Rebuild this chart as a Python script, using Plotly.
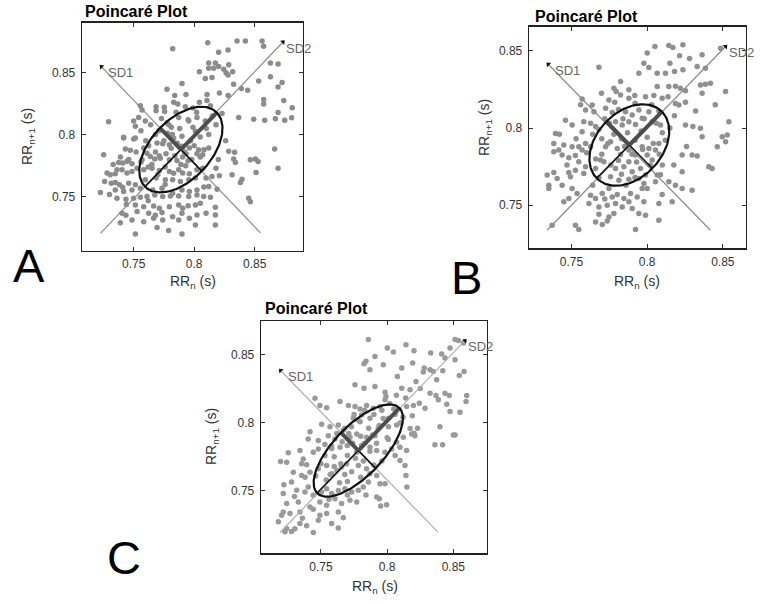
import numpy as np
import plotly.graph_objects as go

# ---------------- data (RR_n, RR_n+1) in seconds ----------------
A_RR = [
    (0.8112,0.8738),(0.7822,0.8689),(0.8354,0.8751),(0.8423,0.8751),(0.8561,0.8751),(0.8574,0.8710),
    (0.8202,0.8661),(0.8280,0.8678),(0.8120,0.8574),(0.8175,0.8574),(0.8202,0.8546),(0.8120,0.8533),
    (0.8161,0.8533),(0.8244,0.8525),(0.8285,0.8560),(0.8043,0.8505),(0.8263,0.8497),(0.8318,0.8505),
    (0.8092,0.8451),(0.8147,0.8459),(0.8280,0.8478),(0.8630,0.8574),(0.8693,0.8566),(0.8630,0.8464),
    (0.8726,0.8418),(0.8693,0.8383),(0.8533,0.8430),(0.7899,0.8410),(0.8326,0.8404),(0.8390,0.8369),
    (0.8442,0.8355),(0.7775,0.8363),(0.7839,0.8314),(0.7932,0.8322),(0.8106,0.8322),(0.8208,0.8333),
    (0.8280,0.8314),(0.8574,0.8281),(0.8574,0.8246),(0.8740,0.8273),(0.8106,0.8273),(0.8043,0.8260),
    (0.8134,0.8232),(0.7555,0.8232),(0.7569,0.8197),(0.7685,0.8224),(0.7685,0.8191),(0.7753,0.8219),
    (0.7756,0.8186),(0.7831,0.8260),(0.7864,0.8246),(0.7927,0.8224),(0.7988,0.8213),(0.8368,0.8137),
    (0.8492,0.8123),(0.8583,0.8115),(0.8671,0.8128),(0.8748,0.8115),(0.8693,0.8178),(0.8230,0.8170),
    (0.7293,0.8104),(0.7500,0.8109),(0.7514,0.8068),(0.7541,0.8137),(0.7596,0.8109),(0.7775,0.8096),
    (0.7811,0.8060),(0.7872,0.8137),(0.7955,0.8109),(0.8023,0.8137),(0.8092,0.8109),(0.7417,0.7978),
    (0.7514,0.7973),(0.7899,0.7986),(0.8010,0.8027),(0.8120,0.8000),(0.8805,0.8135),(0.8810,0.8215),
    (0.7417,0.7973),(0.7500,0.7965),(0.7431,0.7884),(0.7472,0.7874),(0.7583,0.7892),(0.7624,0.7911),
    (0.7693,0.7933),(0.7740,0.7927),(0.7795,0.7919),(0.7899,0.7906),(0.7960,0.7892),(0.8037,0.7879),
    (0.8081,0.7879),(0.8120,0.7892),(0.8285,0.7866),(0.8334,0.7858),(0.8665,0.7884),(0.8506,0.7804),
    (0.8464,0.7798),(0.8528,0.7785),(0.8326,0.7804),(0.8340,0.7777),(0.8693,0.7731),(0.8511,0.7696),
    (0.7252,0.7839),(0.7376,0.7777),(0.7409,0.7772),(0.7445,0.7785),(0.7486,0.7766),(0.7569,0.7798),
    (0.7638,0.7825),(0.7674,0.7804),(0.7712,0.7828),(0.7767,0.7847),(0.7795,0.7798),(0.7858,0.7793),
    (0.7905,0.7820),(0.7933,0.7847),(0.8023,0.7847),(0.8070,0.7839),(0.7280,0.7691),(0.7307,0.7677),
    (0.7348,0.7685),(0.7362,0.7718),(0.7404,0.7718),(0.7445,0.7691),(0.7486,0.7704),(0.7528,0.7731),
    (0.7583,0.7718),(0.7652,0.7731),(0.7712,0.7712),(0.7795,0.7704),(0.7872,0.7718),(0.7905,0.7691),
    (0.7960,0.7685),(0.8023,0.7718),(0.8070,0.7731),(0.8180,0.7731),(0.7260,0.7624),(0.7315,0.7610),
    (0.7348,0.7616),(0.7382,0.7597),(0.7409,0.7578),(0.7459,0.7610),(0.7514,0.7597),(0.7596,0.7637),
    (0.7685,0.7651),(0.7762,0.7637),(0.7822,0.7637),(0.7886,0.7624),(0.7955,0.7637),(0.8010,0.7651),
    (0.8098,0.7651),(0.8147,0.7664),(0.8208,0.7669),(0.8313,0.7677),(0.8395,0.7642),(0.8382,0.7616),
    (0.7225,0.7535),(0.7348,0.7556),(0.7417,0.7543),(0.7486,0.7556),(0.7555,0.7570),(0.7657,0.7556),
    (0.7734,0.7570),(0.7822,0.7530),(0.7899,0.7556),(0.7960,0.7543),(0.8023,0.7556),(0.8120,0.7583),
    (0.8189,0.7562),(0.8450,0.7489),(0.8464,0.7462),(0.7362,0.7489),(0.7436,0.7481),(0.7500,0.7489),
    (0.7555,0.7497),(0.7610,0.7503),(0.7674,0.7516),(0.7740,0.7503),(0.7803,0.7508),(0.7872,0.7508),
    (0.7955,0.7503),(0.8023,0.7516),(0.8078,0.7503),(0.8134,0.7497),(0.7514,0.7435),(0.7583,0.7422),
    (0.7665,0.7427),(0.7712,0.7409),(0.7795,0.7422),(0.7872,0.7435),(0.7905,0.7409),(0.8010,0.7435),
    (0.8051,0.7449),(0.8175,0.7417),(0.7404,0.7368),(0.7436,0.7352),(0.7528,0.7382),(0.7624,0.7368),
    (0.7679,0.7352),(0.7734,0.7374),(0.7822,0.7341),(0.7899,0.7368),(0.7960,0.7328),(0.8023,0.7355),
    (0.8098,0.7368),(0.8175,0.7355),(0.7390,0.7293),(0.7486,0.7315),(0.7583,0.7301),(0.7665,0.7328),
    (0.7740,0.7315),(0.7872,0.7315),(0.8010,0.7274),(0.8175,0.7274),(0.7514,0.7202),(0.7693,0.7255),
    (0.7789,0.7231),(0.7899,0.7202),
    (0.7780,0.8010),(0.7830,0.7970),(0.7860,0.7930),(0.7750,0.7950),(0.7810,0.7890),(0.7920,0.7860),
    (0.7970,0.7950),(0.7680,0.7860),(0.7720,0.7810),(0.7840,0.7830),(0.7950,0.7790),(0.8000,0.7910),
    (0.7650,0.7760),(0.7760,0.7740),(0.7890,0.7760),(0.7610,0.7850),(0.7790,0.8080),(0.7710,0.8030),
    (0.8050,0.7980),(0.8100,0.8050),(0.7950,0.8120),(0.8020,0.8180),
    (0.7330,0.7760),(0.7390,0.7820),(0.7460,0.7800),(0.7520,0.7860),(0.7560,0.7780),(0.7620,0.7740),
    (0.7700,0.7680),(0.7760,0.7600),(0.7830,0.7690),(0.7930,0.7750),(0.7980,0.7800),(0.8050,0.7820),
    (0.7990,0.8060),(0.7880,0.8050),(0.7820,0.8000),(0.7680,0.8000),(0.7600,0.7950),(0.7560,0.8030),
    (0.7640,0.8080),(0.7730,0.8130),(0.7850,0.8180),(0.8150,0.8150),(0.8180,0.8080),(0.8260,0.7950),
    (0.8200,0.7800),(0.7300,0.7520),(0.7440,0.7440),(0.7620,0.7470),(0.7950,0.7430),(0.8080,0.7580),
]

B_RR = [
    (0.8051,0.8528),(0.8143,0.8535),(0.8170,0.8522),(0.8236,0.8539),(0.8000,0.8485),(0.8214,0.8468),
    (0.8363,0.8474),(0.8485,0.8517),(0.7681,0.8394),(0.7978,0.8420),(0.8011,0.8392),(0.8066,0.8355),
    (0.8121,0.8355),(0.8181,0.8366),(0.8236,0.8377),(0.8330,0.8398),(0.8385,0.8387),(0.7945,0.8355),
    (0.7824,0.8301),(0.7879,0.8247),(0.8066,0.8268),(0.8143,0.8268),(0.8187,0.8271),(0.8220,0.8258),
    (0.8253,0.8242),(0.8352,0.8279),(0.8385,0.8284),(0.8363,0.8225),(0.8418,0.8290),(0.8518,0.8236),
    (0.7780,0.8258),(0.7795,0.8236),(0.7698,0.8225),(0.7824,0.8214),(0.7879,0.8193),(0.7918,0.8210),
    (0.7989,0.8203),(0.8044,0.8210),(0.8099,0.8193),(0.8138,0.8203),(0.8187,0.8158),(0.8209,0.8149),
    (0.8253,0.8167),(0.7570,0.8188),(0.7637,0.8149),(0.7747,0.8182),(0.7786,0.8167),(0.7725,0.8128),
    (0.7769,0.8101),(0.7593,0.8117),(0.7648,0.8106),(0.7857,0.8106),(0.7901,0.8084),(0.7945,0.8117),
    (0.8011,0.8106),(0.8077,0.8110),(0.8540,0.8041),(0.8253,0.8020),(0.8302,0.8009),(0.8352,0.7998),
    (0.7504,0.8020),(0.7394,0.7965),(0.7581,0.8041),(0.7626,0.8030),(0.7659,0.8009),(0.7570,0.7976),
    (0.7791,0.8041),(0.7835,0.8020),(0.7879,0.8041),(0.7923,0.8023),(0.7967,0.8063),(0.8033,0.8041),
    (0.8088,0.8020),(0.8529,0.7955),
    (0.7383,0.7900),(0.7383,0.7846),(0.7416,0.7857),(0.7449,0.7890),(0.7504,0.7879),(0.7548,0.7879),
    (0.7438,0.7825),(0.7482,0.7808),(0.7526,0.7822),(0.7570,0.7857),(0.7593,0.7900),(0.7626,0.7879),
    (0.7548,0.7781),(0.7593,0.7749),(0.7339,0.7695),(0.7383,0.7712),(0.7350,0.7630),(0.7405,0.7673),
    (0.7482,0.7712),(0.7526,0.7727),(0.7438,0.7630),(0.7350,0.7608),(0.7493,0.7684),(0.7581,0.7706),
    (0.7659,0.7738),(0.7692,0.7792),(0.7714,0.7781),(0.7725,0.7879),(0.7758,0.7911),(0.7802,0.7868),
    (0.7824,0.7828),(0.7879,0.7857),(0.7923,0.7825),(0.7879,0.7781),(0.7967,0.7879),(0.8011,0.7868),
    (0.8000,0.7825),(0.8055,0.7857),(0.8077,0.7900),(0.8033,0.7792),(0.7791,0.7738),(0.7846,0.7749),
    (0.7901,0.7716),(0.7956,0.7738),(0.7989,0.7695),(0.7681,0.7678),(0.7758,0.7684),(0.7813,0.7662),
    (0.7879,0.7668),(0.7945,0.7673),(0.7978,0.7641),(0.8000,0.7608),(0.7967,0.7608),(0.8066,0.7695),
    (0.8088,0.7697),(0.8055,0.7652),(0.8143,0.7652),(0.8187,0.7630),(0.8231,0.7608),(0.8099,0.7570),
    (0.8165,0.7522),(0.8077,0.7511),(0.8297,0.7597),(0.8176,0.7760),(0.8231,0.7825),(0.8297,0.7825),
    (0.8330,0.7819),(0.8363,0.7944),(0.8407,0.7749),(0.8429,0.7738),(0.8496,0.7944),(0.8518,0.7911),
    (0.8463,0.7879),(0.8231,0.7716),(0.7504,0.7608),(0.7537,0.7576),(0.7449,0.7522),(0.7482,0.7543),
    (0.7626,0.7565),(0.7659,0.7543),(0.7703,0.7576),(0.7747,0.7608),(0.7802,0.7569),(0.7846,0.7543),
    (0.7890,0.7576),(0.7934,0.7554),(0.7978,0.7522),(0.7615,0.7511),(0.7681,0.7489),(0.7736,0.7500),
    (0.7791,0.7511),(0.7835,0.7489),(0.7901,0.7478),(0.7945,0.7446),(0.7989,0.7435),(0.7681,0.7441),
    (0.7747,0.7424),(0.7780,0.7446),(0.7659,0.7392),(0.7703,0.7375),(0.7736,0.7397),(0.7526,0.7370),
    (0.7548,0.7343),(0.7372,0.7370),(0.7923,0.7343),(0.8077,0.7403),(0.7769,0.7554),(0.7879,0.7522),
    (0.7780,0.7960),(0.7830,0.7930),(0.7870,0.7970),(0.7920,0.7920),(0.7960,0.7980),(0.8000,0.7940),
    (0.7740,0.7900),(0.7850,0.7880),(0.7900,0.7830),(0.7970,0.7860),(0.8040,0.7900),(0.8100,0.7970),
    (0.7700,0.7830),(0.7810,0.7790),(0.7930,0.7780),(0.7680,0.7990),(0.7750,0.8030),(0.7840,0.8060),
    (0.7980,0.8060),(0.8060,0.8030),
    (0.7640,0.7960),(0.7700,0.7930),(0.7600,0.7840),(0.7660,0.7800),(0.7760,0.7760),(0.7830,0.7700),
    (0.7920,0.7680),(0.8020,0.7760),(0.8080,0.7830),(0.8120,0.7920),(0.8150,0.8000),(0.8180,0.8080),
    (0.8030,0.8150),(0.7920,0.8160),(0.7810,0.8120),(0.7720,0.8060),(0.7530,0.7930),(0.7470,0.7760),
    (0.7420,0.7960),(0.7640,0.7630),(0.7720,0.7540),(0.7860,0.7630),(0.8100,0.7760),(0.8260,0.7880),
    (0.8320,0.8110),(0.8450,0.8150),(0.7460,0.8050),(0.7560,0.8150),(0.8150,0.8420),(0.8280,0.8450),
]

C_RR = [
    (0.7858,0.8608),(0.8001,0.8547),(0.8047,0.8517),(0.8142,0.8571),(0.8203,0.8527),(0.8329,0.8510),
    (0.8412,0.8502),(0.8475,0.8547),(0.8513,0.8608),(0.8538,0.8601),(0.8576,0.8583),(0.7840,0.8449),
    (0.7825,0.8432),(0.7908,0.8485),(0.7971,0.8424),(0.8110,0.8400),(0.8193,0.8436),(0.7870,0.8387),
    (0.8077,0.8338),(0.8273,0.8370),(0.8324,0.8387),(0.8349,0.8375),(0.8374,0.8314),(0.8437,0.8473),
    (0.8513,0.8461),(0.8581,0.8375),(0.8545,0.8346),(0.8218,0.8301),(0.7757,0.8277),(0.7825,0.8252),
    (0.7908,0.8265),(0.7984,0.8223),(0.7991,0.8191),(0.7984,0.8167),(0.8110,0.8252),(0.8173,0.8240),
    (0.8324,0.8216),(0.8369,0.8198),(0.8437,0.8216),(0.8469,0.8198),(0.8601,0.8198),(0.8596,0.8154),
    (0.8387,0.8167),(0.8450,0.8135),(0.7455,0.8179),(0.7492,0.8125),(0.7543,0.8110),(0.7644,0.8154),
    (0.7707,0.8125),(0.7757,0.8118),(0.7795,0.8100),(0.7845,0.8125),(0.7895,0.8105),(0.7946,0.8118),
    (0.8147,0.8118),(0.8198,0.8125),(0.8243,0.8142),(0.8286,0.8105),(0.8475,0.8081),(0.8550,0.8076),
    (0.8399,0.7971),(0.8513,0.7909),(0.7417,0.7934),(0.7505,0.7988),(0.7568,0.7971),(0.7631,0.7983),
    (0.7669,0.7946),(0.7744,0.8032),(0.7795,0.8007),(0.7807,0.8056),(0.7870,0.8032),(0.8009,0.8032),
    (0.8072,0.7983),(0.8173,0.7958),(0.8203,0.7922),(0.7933,0.7958),
    (0.7404,0.7881),(0.7480,0.7869),(0.7555,0.7905),(0.7606,0.7881),(0.7719,0.7893),(0.7770,0.7917),
    (0.7845,0.7893),(0.7908,0.7905),(0.8009,0.7876),(0.8072,0.7857),(0.8122,0.7893),(0.8185,0.7917),
    (0.8210,0.7905),(0.8500,0.7910),(0.8361,0.7838),(0.8419,0.7838),(0.7195,0.7716),(0.7241,0.7711),
    (0.7253,0.7779),(0.7341,0.7796),(0.7366,0.7735),(0.7354,0.7699),(0.7392,0.7692),(0.7442,0.7784),
    (0.7480,0.7808),(0.7530,0.7760),(0.7581,0.7811),(0.7644,0.7820),(0.7699,0.7833),(0.7770,0.7784),
    (0.7807,0.7833),(0.7870,0.7820),(0.7921,0.7796),(0.7984,0.7784),(0.8034,0.7808),(0.8097,0.7820),
    (0.8147,0.7796),(0.8097,0.7723),(0.8135,0.7687),(0.7291,0.7638),(0.7354,0.7614),(0.7417,0.7638),
    (0.7480,0.7663),(0.7543,0.7687),(0.7581,0.7626),(0.7656,0.7675),(0.7694,0.7699),(0.7732,0.7641),
    (0.7782,0.7687),(0.7845,0.7663),(0.7870,0.7626),(0.7921,0.7614),(0.7946,0.7553),(0.7984,0.7553),
    (0.8142,0.7614),(0.8149,0.7529),(0.7220,0.7546),(0.7215,0.7481),(0.7278,0.7566),(0.7316,0.7505),
    (0.7379,0.7493),(0.7404,0.7529),(0.7442,0.7468),(0.7505,0.7493),(0.7543,0.7517),(0.7581,0.7481),
    (0.7631,0.7503),(0.7681,0.7517),(0.7732,0.7493),(0.7782,0.7505),(0.7820,0.7529),(0.7858,0.7566),
    (0.7921,0.7456),(0.7941,0.7444),(0.7241,0.7408),(0.7215,0.7347),(0.7329,0.7420),(0.7417,0.7383),
    (0.7492,0.7420),(0.7543,0.7396),(0.7606,0.7444),(0.7656,0.7408),(0.7719,0.7432),(0.7770,0.7420),
    (0.7951,0.7391),(0.7996,0.7400),(0.7178,0.7274),(0.7203,0.7323),(0.7266,0.7335),(0.7341,0.7347),
    (0.7442,0.7366),(0.7492,0.7323),(0.7543,0.7335),(0.7631,0.7347),(0.7669,0.7304),(0.7241,0.7226),
    (0.7278,0.7204),(0.7303,0.7224),(0.7341,0.7262),(0.7392,0.7245),(0.7442,0.7197),(0.7480,0.7286),
    (0.7581,0.7262),(0.7631,0.7229),(0.7228,0.7201),
    (0.7660,0.7860),(0.7710,0.7920),(0.7740,0.7850),(0.7800,0.7900),(0.7860,0.7960),(0.7830,0.7850),
    (0.7890,0.7910),(0.7940,0.7980),(0.7970,0.8030),(0.8010,0.7970),(0.7600,0.7750),(0.7650,0.7700),
    (0.7700,0.7760),(0.7760,0.7740),(0.7820,0.7720),(0.7870,0.7790),(0.7920,0.7850),(0.7570,0.7620),
    (0.7620,0.7650),(0.7680,0.7620),(0.7540,0.7580),(0.8060,0.8060),(0.8100,0.8000),(0.7730,0.7970),
    (0.7780,0.8020),(0.7580,0.7830),(0.7600,0.7680),(0.8050,0.8100),(0.8120,0.8040),
    (0.7460,0.7610),(0.7500,0.7700),(0.7530,0.7840),(0.7620,0.7920),(0.7680,0.7960),(0.7750,0.8060),
    (0.7830,0.8090),(0.7900,0.8060),(0.7960,0.8090),(0.8020,0.8140),(0.8070,0.8200),(0.8140,0.8180),
    (0.8000,0.7890),(0.7960,0.7720),(0.7900,0.7690),(0.7800,0.7600),(0.7700,0.7570),(0.7640,0.7560),
    (0.7380,0.7600),(0.7300,0.7460),(0.7360,0.7300),(0.7560,0.7440),(0.7700,0.7470),(0.7840,0.7470),
    (0.8250,0.8250),(0.8280,0.8400),(0.8420,0.8380),(0.8190,0.8050),(0.8230,0.7960),(0.8060,0.7760),
]

# Poincaré descriptors per panel: centroid, SD1, SD2 (s)
A_CENTER, A_SD1, A_SD2 = (0.7890, 0.7880), 0.0245, 0.0420
B_CENTER, B_SD1, B_SD2 = (0.7882, 0.7890), 0.0215, 0.0305
C_CENTER, C_SD1, C_SD2 = (0.7782, 0.7796), 0.0185, 0.0440

# long SD1 / SD2 axis lines (start, arrow end)
A_SD1_LINE = [(0.8547, 0.7212), (0.7233, 0.8546)]
A_SD2_LINE = [(0.7225, 0.7207), (0.8734, 0.8743)]
B_SD1_LINE = [(0.8418, 0.7338), (0.7346, 0.8413)]
B_SD2_LINE = [(0.7339, 0.7338), (0.8518, 0.8528)]
C_SD1_LINE = [(0.8382, 0.7201), (0.7195, 0.8382)]
C_SD2_LINE = [(0.7190, 0.7196), (0.8588, 0.8600)]

TICK_VALS = [0.75, 0.8, 0.85]
TICK_TEXT = ["0.75", "0.8", "0.85"]
PANEL_LETTERS = ["A", "B", "C"]
TITLE = "Poincaré Plot"
X_TITLE = "RR<sub>n</sub> (s)"
Y_TITLE = "RR<sub>n+1</sub> (s)"

# ---------------- layout geometry (pixels of a 760x604 canvas) ----------------
W, H = 760, 604
FONT = "Liberation Sans, Arial, sans-serif"

panels = [
    dict(pts=A_RR, c=A_CENTER, sd1=A_SD1, sd2=A_SD2, l1=A_SD1_LINE, l2=A_SD2_LINE,
         box=(82, 303, 22.7, 250.5), xr=[0.7073, 0.8899], yr=[0.7070, 0.8898],
         dot="#8c8c8c", axc="#8c8c8c", title=(83, 11.5), letter=(28.5, 265.5),
         xt=(192.5, 282), yt=(28, 136)),
    dict(pts=B_RR, c=B_CENTER, sd1=B_SD1, sd2=B_SD2, l1=B_SD1_LINE, l2=B_SD2_LINE,
         box=(529, 745.7, 26.7, 248.3), xr=[0.7219, 0.8651], yr=[0.7221, 0.8656],
         dot="#909090", axc="#8c8c8c", title=(533, 16.5), letter=(466, 277.5),
         xt=(637, 282), yt=(485, 128)),
    dict(pts=C_RR, c=C_CENTER, sd1=C_SD1, sd2=C_SD2, l1=C_SD1_LINE, l2=C_SD2_LINE,
         box=(261, 486.7, 321, 553.3), xr=[0.7047, 0.8752], yr=[0.7044, 0.8744],
         dot="#9a9a9a", axc="#b0b0b0", title=(263, 308), letter=(124, 557),
         xt=(374.5, 587), yt=(212, 436)),
]

fig = go.Figure()
annotations = []
layout_axes = {}

u = np.array([1.0, 1.0]) / np.sqrt(2)
v = np.array([-1.0, 1.0]) / np.sqrt(2)
t = np.linspace(0, 2 * np.pi, 200)

for i, p in enumerate(panels):
    k = "" if i == 0 else str(i + 1)
    xa, ya = "x" + k, "y" + k
    x0, x1, y0, y1 = p["box"]
    common = dict(tickvals=TICK_VALS, ticktext=TICK_TEXT, ticks="inside", ticklen=4,
                  tickcolor="#333", showline=True, linecolor="#222", linewidth=1.3,
                  mirror="ticks", showgrid=False, zeroline=False,
                  tickfont=dict(family=FONT, size=12, color="#333"))
    layout_axes["xaxis" + k] = dict(domain=[x0 / W, x1 / W], anchor=ya, range=p["xr"],
                                    ticklabelstandoff=2, **common)
    layout_axes["yaxis" + k] = dict(domain=[1 - y1 / H, 1 - y0 / H], anchor=xa, range=p["yr"],
                                    ticklabelstandoff=3, **common)

    xs = [q[0] for q in p["pts"]]
    ys = [q[1] for q in p["pts"]]
    fig.add_trace(go.Scatter(x=xs, y=ys, mode="markers", xaxis=xa, yaxis=ya,
                             marker=dict(size=5.5, color=p["dot"], line=dict(width=0)),
                             showlegend=False, hoverinfo="skip"))

    # long SD1 and SD2 axis lines
    for line in (p["l1"], p["l2"]):
        fig.add_trace(go.Scatter(x=[line[0][0], line[1][0]], y=[line[0][1], line[1][1]],
                                 mode="lines", xaxis=xa, yaxis=ya,
                                 line=dict(color=p["axc"], width=1.2),
                                 showlegend=False, hoverinfo="skip"))
    # arrowheads at the far ends
    fig.add_trace(go.Scatter(x=[p["l1"][1][0], p["l2"][1][0]], y=[p["l1"][1][1], p["l2"][1][1]],
                             mode="markers", xaxis=xa, yaxis=ya,
                             marker=dict(symbol="triangle-up", size=5, angle=[-45, 45], color="#111"),
                             showlegend=False, hoverinfo="skip"))

    c = np.array(p["c"])
    a, b = p["sd2"], p["sd1"]
    ell = c[:, None] + np.outer(u, a * np.cos(t)) + np.outer(v, b * np.sin(t))
    pa, pb = c - a * u, c + a * u
    qa, qb = c - b * v, c + b * v
    # thin black full axes of the ellipse
    fig.add_trace(go.Scatter(x=[pa[0], pb[0], None, qa[0], qb[0]],
                             y=[pa[1], pb[1], None, qa[1], qb[1]],
                             mode="lines", xaxis=xa, yaxis=ya,
                             line=dict(color="#111", width=1.6),
                             showlegend=False, hoverinfo="skip"))
    # thick SD1 / SD2 segments
    fig.add_trace(go.Scatter(x=[c[0], pb[0], None, c[0], qb[0]],
                             y=[c[1], pb[1], None, c[1], qb[1]],
                             mode="lines", xaxis=xa, yaxis=ya,
                             line=dict(color="#4d4d4d", width=4),
                             showlegend=False, hoverinfo="skip"))
    fig.add_trace(go.Scatter(x=ell[0], y=ell[1], mode="lines", xaxis=xa, yaxis=ya,
                             line=dict(color="#111", width=2.2),
                             showlegend=False, hoverinfo="skip"))

    # SD labels
    annotations.append(dict(x=p["l1"][1][0], y=p["l1"][1][1], xref=xa, yref=ya, text="SD1",
                            showarrow=False, xanchor="left", yanchor="middle", xshift=5, yshift=-6,
                            font=dict(family=FONT, size=13, color="#666")))
    annotations.append(dict(x=p["l2"][1][0], y=p["l2"][1][1], xref=xa, yref=ya, text="SD2",
                            showarrow=False, xanchor="left", yanchor="middle", xshift=1, yshift=-6,
                            font=dict(family=FONT, size=13, color="#666")))
    # title
    annotations.append(dict(x=p["title"][0] / W, y=1 - p["title"][1] / H, xref="paper", yref="paper",
                            text="<b>" + TITLE + "</b>", showarrow=False, xanchor="left", yanchor="middle",
                            font=dict(family=FONT, size=16, color="#000")))
    # panel letter
    annotations.append(dict(x=p["letter"][0] / W, y=1 - p["letter"][1] / H, xref="paper", yref="paper",
                            text=PANEL_LETTERS[i], showarrow=False, xanchor="center", yanchor="middle",
                            font=dict(family=FONT, size=47, color="#000")))
    # axis titles
    annotations.append(dict(x=p["xt"][0] / W, y=1 - p["xt"][1] / H, xref="paper", yref="paper",
                            text=X_TITLE, showarrow=False, xanchor="center", yanchor="middle",
                            font=dict(family=FONT, size=14, color="#333")))
    annotations.append(dict(x=p["yt"][0] / W, y=1 - p["yt"][1] / H, xref="paper", yref="paper",
                            text=Y_TITLE, showarrow=False, xanchor="center", yanchor="middle",
                            textangle=-90, font=dict(family=FONT, size=14, color="#333")))

fig.update_layout(
    width=W, height=H, margin=dict(l=0, r=0, t=0, b=0),
    paper_bgcolor="white", plot_bgcolor="white",
    showlegend=False, annotations=annotations, **layout_axes,
)

# remove the browser's default 8px body margin so the figure sits at the page origin
fig.write_html("out.html",
               config={"displayModeBar": False, "staticPlot": True},
               post_script="document.body.style.margin='0';document.body.style.overflow='hidden';")
